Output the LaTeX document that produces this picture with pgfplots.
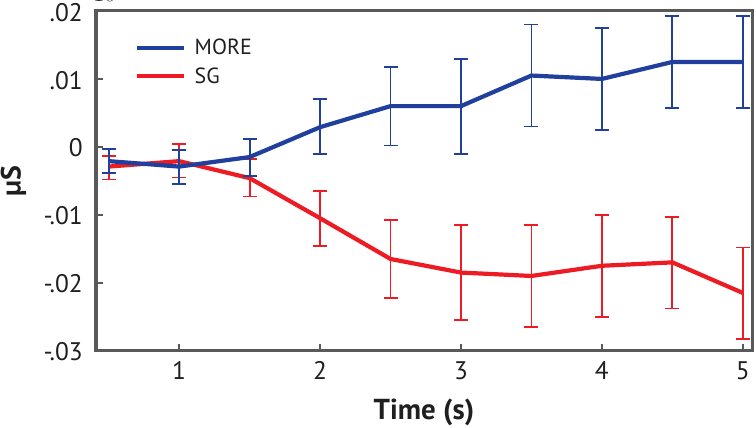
\documentclass[border=0pt]{standalone}
\usepackage{fontspec}
\setmainfont{PT Sans}
\usepackage{pgfplots}
\usepackage{pgfplotstable}
\pgfplotsset{compat=1.18}
\definecolor{moreblue}{RGB}{33,63,156}
\definecolor{sgred}{RGB}{237,28,36}
\definecolor{axisgray}{RGB}{88,89,91}

\pgfplotstableread{
x y ep em
0.5 -0.0021 0.0018 0.0017
1.0 -0.0029 0.0024 0.0026
1.5 -0.0015 0.0027 0.0028
2.0 0.0029 0.0041 0.0040
2.5 0.0060 0.0058 0.0058
3.0 0.0060 0.0069 0.0070
3.5 0.0105 0.0075 0.0075
4.0 0.0100 0.0075 0.0075
4.5 0.0125 0.0068 0.0068
5.0 0.0125 0.0068 0.0068
}\moredata

\pgfplotstableread{
x y ep em
0.5 -0.0029 0.0016 0.0019
1.0 -0.0021 0.0025 0.0024
1.5 -0.0046 0.0028 0.0027
2.0 -0.0105 0.0040 0.0041
2.5 -0.0165 0.0057 0.0057
3.0 -0.0185 0.0070 0.0070
3.5 -0.0190 0.0075 0.0075
4.0 -0.0175 0.0075 0.0075
4.5 -0.0170 0.0067 0.0068
5.0 -0.0215 0.0067 0.0068
}\sgdata

\begin{document}
\begin{tikzpicture}
\useasboundingbox (0,0) rectangle (756bp,428bp);
\begin{axis}[
  at={(96bp,77.3bp)}, anchor=south west,
  width=656bp, height=339.7bp, scale only axis,
  xmin=0.41, xmax=5.065, ymin=-0.03, ymax=0.02,
  axis line style={draw=axisgray, line width=3bp},
  xtick={1,2,3,4,5}, xticklabels={1,2,3,4,5},
  ytick={-0.03,-0.02,-0.01,0,0.01,0.02},
  yticklabels={-.03,-.02,-.01,0,.01,.02},
  xtick pos=bottom, ytick pos=left,
  tick align=inside,
  major tick length=7bp,
  tick style={draw=axisgray, line width=2bp},
  ticklabel style={font=\fontsize{25.5}{30}\selectfont, inner sep=0pt, text=black!88},
  y tick label style={anchor=east, xshift=-13bp, yshift=-1.2bp},
  x tick label style={anchor=north, yshift=-11bp},
  xlabel={\bfseries Time (s)},
  xlabel style={at={(axis description cs:0.5,0)}, anchor=north, yshift=-48bp, inner sep=0pt, font=\fontsize{29}{33}\selectfont, text=black!88},
  ylabel={\bfseries µS},
  ylabel style={at={(axis description cs:-0.126,0.5)}, anchor=center, inner sep=0pt, font=\fontsize{28}{32}\selectfont, text=black!88},
  legend image code/.code={\draw[#1, line width=3.5bp] (0bp,0bp) -- (47bp,0bp);},
  legend cell align=left,
  legend style={at={(axis description cs:0.0595,0.923)}, anchor=north west, draw=none, fill=none, inner sep=0pt, font=\fontsize{22}{26}\selectfont, row sep=7bp, column sep=7bp, text=black!88},
  reverse legend,
  error bars/error bar style={line width=1.8bp},
  error bars/error mark options={rotate=90, mark size=7bp, line width=1.8bp},
]
\addplot[sgred, line width=4.2bp, mark=none,
  error bars/.cd, y dir=both, y explicit]
  table[x=x, y=y, y error plus=ep, y error minus=em] {\sgdata};
\addlegendentry{SG}
\addplot[moreblue, line width=4.2bp, mark=none,
  error bars/.cd, y dir=both, y explicit]
  table[x=x, y=y, y error plus=ep, y error minus=em] {\moredata};
\addlegendentry{MORE}
\end{axis}
\end{tikzpicture}
\end{document}
